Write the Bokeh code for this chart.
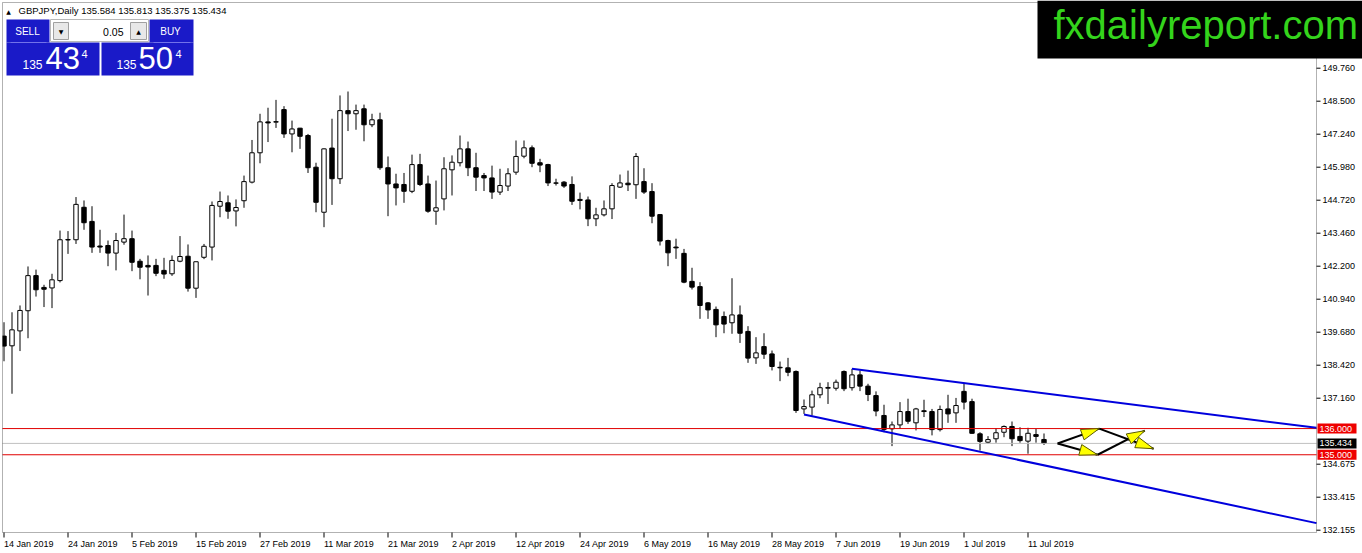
import numpy as np
from bokeh.plotting import figure
from bokeh.models import Range1d, Label, BoxAnnotation, ColumnDataSource
from bokeh.core.properties import value
from bokeh.embed import file_html
from bokeh.resources import INLINE

# ---------------- data ----------------
symbol_text = "GBPJPY,Daily"
last_ohlc_text = "135.584 135.813 135.375 135.434"

opens = [139.53, 139.16, 139.73, 140.50, 141.84, 141.39, 141.37, 141.65, 143.20, 143.21,
         144.45, 143.91, 142.97, 142.99, 142.70, 143.12, 143.25, 142.39, 142.23, 142.23,
         142.04, 141.91, 142.39, 142.58, 141.36, 142.54, 142.93, 144.49, 144.62, 144.31,
         144.70, 145.41, 146.53, 147.71, 147.70, 148.18, 147.25, 147.47, 147.19, 145.98,
         144.26, 146.71, 145.54, 148.14, 148.02, 148.21, 147.60, 147.79, 145.96, 145.34,
         145.32, 145.06, 146.08, 145.34, 144.30, 144.77, 145.88, 146.15, 146.68, 145.96,
         145.66, 145.57, 145.03, 145.26, 145.79, 146.40, 146.72, 146.15, 146.08, 145.38,
         145.41, 145.32, 144.75, 144.73, 144.01, 144.16, 144.39, 145.22, 145.37, 145.31,
         145.43, 145.05, 144.17, 143.18, 142.93, 142.69, 141.62, 141.42, 140.80, 140.55,
         140.28, 140.04, 140.34, 139.71, 138.70, 139.13, 138.85, 138.34, 138.32, 138.18,
         136.75, 136.82, 137.29, 137.54, 137.54, 138.18, 137.56, 138.05, 137.62, 137.26,
         136.50, 135.99, 136.14, 136.65, 136.22, 136.68, 136.65, 135.96, 136.75, 136.60,
         137.42, 137.03, 135.80, 135.48, 135.61, 135.86, 136.08, 135.70, 135.52, 135.77,
         135.584]
highs = [140.06, 140.44, 140.70, 142.19, 142.07, 141.49, 141.91, 143.56, 143.54, 144.84,
         144.71, 144.49, 143.59, 143.18, 143.47, 144.17, 143.56, 142.48, 142.61, 142.48,
         142.52, 142.61, 143.35, 143.03, 142.37, 143.05, 144.67, 145.05, 144.90, 144.75,
         145.66, 147.02, 148.02, 148.25, 148.55, 148.31, 147.76, 147.48, 147.25, 146.15,
         146.70, 147.83, 148.72, 148.87, 148.37, 148.37, 148.02, 148.06, 146.39, 145.73,
         145.76, 146.46, 146.49, 145.66, 145.47, 146.36, 146.43, 147.19, 146.96, 146.53,
         145.76, 146.04, 145.92, 145.94, 147.00, 147.00, 146.81, 146.30, 146.11, 145.54,
         145.45, 145.63, 145.01, 144.86, 144.43, 144.71, 145.37, 145.70, 145.85, 146.52,
         145.94, 145.37, 144.19, 143.21, 143.25, 142.86, 142.14, 141.59, 140.83, 140.66,
         140.47, 141.74, 140.70, 139.91, 139.49, 139.64, 138.98, 138.56, 138.70, 138.22,
         137.11, 137.45, 137.75, 137.77, 137.87, 138.22, 138.28, 138.22, 137.71, 137.42,
         136.91, 136.27, 137.01, 137.14, 136.79, 137.10, 136.75, 136.88, 137.29, 137.17,
         137.71, 137.14, 135.86, 135.71, 136.02, 136.12, 136.27, 136.05, 136.03, 135.99,
         135.813]
lows = [138.57, 137.33, 138.96, 139.45, 141.04, 140.64, 140.60, 141.58, 142.67, 143.05,
        143.59, 142.71, 142.71, 142.20, 142.04, 143.02, 142.01, 141.70, 141.08, 141.82,
        141.72, 141.83, 142.35, 141.23, 140.99, 142.47, 142.42, 144.07, 144.01, 143.72,
        144.43, 145.36, 146.13, 146.94, 147.48, 147.10, 146.55, 146.68, 145.76, 144.26,
        143.69, 144.54, 145.34, 147.36, 147.41, 146.97, 147.51, 145.88, 144.11, 144.52,
        144.62, 144.99, 145.26, 144.24, 143.78, 144.33, 144.90, 146.01, 145.64, 145.07,
        145.07, 144.77, 144.92, 145.07, 145.69, 146.32, 145.98, 145.79, 145.26, 145.28,
        145.19, 144.54, 144.37, 143.73, 143.73, 144.10, 144.00, 145.19, 145.07, 144.77,
        144.96, 143.84, 142.99, 142.20, 142.48, 141.55, 141.31, 140.19, 140.19, 139.49,
        139.64, 139.62, 139.27, 138.51, 138.47, 138.66, 138.22, 137.81, 138.00, 136.60,
        136.56, 136.50, 137.16, 136.94, 137.45, 137.43, 137.45, 137.43, 137.05, 136.47,
        135.86, 135.33, 135.99, 136.18, 135.93, 136.44, 135.74, 135.89, 136.22, 136.22,
        136.73, 135.80, 135.16, 135.42, 135.46, 135.67, 135.33, 135.46, 135.04, 135.46,
        135.375]
closes = [139.15, 139.77, 140.51, 141.84, 141.30, 141.32, 141.68, 143.21, 143.22, 144.56,
          143.86, 142.93, 142.93, 142.70, 143.18, 143.25, 142.35, 142.16, 142.17, 141.93,
          141.90, 142.42, 142.57, 141.36, 142.37, 142.96, 144.52, 144.67, 144.30, 144.44,
          145.43, 146.53, 147.71, 147.67, 147.72, 147.25, 147.44, 147.16, 145.96, 144.64,
          146.68, 145.54, 148.14, 148.02, 148.14, 147.60, 147.79, 145.96, 145.34, 145.19,
          145.06, 146.08, 145.32, 144.30, 144.43, 145.92, 146.17, 146.68, 145.96, 145.60,
          145.57, 145.03, 145.28, 145.73, 146.39, 146.72, 146.13, 146.06, 145.38, 145.37,
          145.26, 144.68, 144.71, 144.01, 144.16, 144.39, 145.28, 145.38, 145.31, 146.39,
          145.03, 144.11, 143.16, 142.71, 142.90, 141.59, 141.40, 140.70, 140.53, 139.96,
          139.99, 140.34, 139.64, 138.69, 138.89, 138.84, 138.37, 138.32, 138.15, 136.69,
          136.84, 137.29, 137.56, 137.57, 137.77, 137.52, 138.05, 137.62, 137.30, 136.67,
          135.97, 136.14, 136.65, 136.28, 136.75, 136.65, 135.96, 136.73, 136.56, 136.88,
          137.01, 135.82, 135.51, 135.58, 135.84, 136.08, 135.61, 135.54, 135.82, 135.70,
          135.434]

date_tick_bars = list(range(0, 129, 8))
date_tick_labels = ["14 Jan 2019", "24 Jan 2019", "5 Feb 2019", "15 Feb 2019", "27 Feb 2019",
                    "11 Mar 2019", "21 Mar 2019", "2 Apr 2019", "12 Apr 2019", "24 Apr 2019",
                    "6 May 2019", "16 May 2019", "28 May 2019", "7 Jun 2019", "19 Jun 2019",
                    "1 Jul 2019", "11 Jul 2019"]
price_tick_values = [149.76, 148.50, 147.24, 145.98, 144.72, 143.46, 142.20, 140.94,
                     139.68, 138.42, 137.16, 134.64, 133.38, 132.12]
price_tick_labels = ["149.760", "148.500", "147.240", "145.980", "144.720", "143.460",
                     "142.200", "140.940", "139.680", "138.420", "137.160", "134.675",
                     "133.415", "132.155"]

level_prices = [136.000, 135.000]
bid_price = 135.434

upper_channel_bar = [106, 164.06]
upper_channel_price = [138.28, 136.03]
lower_channel_bar = [100, 164.06]
lower_channel_price = [136.54, 132.39]

proj_start_bar, proj_start_price = 131.7, 135.43
proj_mid_bar = [136.9, 136.7]
proj_mid_price = [136.00, 135.00]
proj_end_bar = [143.7, 142.6]
proj_end_price = [135.23, 135.92]

sell_big, sell_small, sell_pip = "43", "135", "4"
buy_big, buy_small, buy_pip = "50", "135", "4"
lot_text = "0.05"
logo_text = "fxdailyreport.com"

# ---------------- layout: the whole canvas is the plotting frame ----------------
W, H = 1362, 553
BAR_PX = 8.0          # pixels per bar
BAR0_PX = 3.5         # pixel x of bar 0
PX_PER_YEN = 26.19    # pixels per price unit
REF_PRICE, REF_PX = 149.76, 67.7
FL, FT, FR, FB = 2, 2, 1316, 532   # chart frame (pixels)

def px2x(X):
    return (X - BAR0_PX) / BAR_PX

def px2y(Y):
    return REF_PRICE - (Y - REF_PX) / PX_PER_YEN

def x2px(x):
    return BAR0_PX + BAR_PX * x

def y2px(y):
    return REF_PX + (REF_PRICE - y) * PX_PER_YEN

FONT = "Liberation Sans"

p = figure(width=W, height=H, output_backend="svg", toolbar_location=None,
           x_range=Range1d(px2x(0), px2x(W)), y_range=Range1d(px2y(H), px2y(0)),
           x_axis_location=None, y_axis_location=None, min_border=0)
p.background_fill_color = "white"
p.border_fill_color = "white"
p.outline_line_color = None
p.grid.visible = False

xl, xr = px2x(FL), px2x(FR)
yt, yb = px2y(FT), px2y(FB)

# candles
o = np.array(opens); h = np.array(highs); l = np.array(lows); c = np.array(closes)
idx = np.arange(len(o))
up = c >= o
p.segment(x0=idx, y0=h, x1=idx, y1=l, line_color="black", line_width=1)
up_src = ColumnDataSource(dict(x=idx[up], top=c[up], bottom=o[up]))
dn_src = ColumnDataSource(dict(x=idx[~up], top=o[~up], bottom=c[~up]))
p.vbar(x="x", top="top", bottom="bottom", width=0.55, source=up_src,
       fill_color="white", line_color="black", line_width=1)
p.vbar(x="x", top="top", bottom="bottom", width=0.55, source=dn_src,
       fill_color="black", line_color="black", line_width=1)

# white margin left of the frame
p.quad(left=[px2x(0)], right=[xl], top=[yt], bottom=[yb], fill_color="white", line_color=None)

# horizontal levels and bid line
p.segment(x0=[xl] * len(level_prices), y0=level_prices, x1=[xr] * len(level_prices),
          y1=level_prices, line_color="#e00000", line_width=1)
p.segment(x0=[xl], y0=[bid_price], x1=[xr], y1=[bid_price], line_color="#c0c0c0", line_width=1)

# channel lines (rays up to the right edge of the frame)
p.line(upper_channel_bar, upper_channel_price, line_color="#0000dd", line_width=2)
p.line(lower_channel_bar, lower_channel_price, line_color="#0000dd", line_width=2)

# projection arrows
seg_x0 = [proj_start_bar, proj_start_bar] + proj_mid_bar
seg_y0 = [proj_start_price, proj_start_price] + proj_mid_price
seg_x1 = proj_mid_bar + proj_end_bar
seg_y1 = proj_mid_price + proj_end_price
p.segment(x0=seg_x0, y0=seg_y0, x1=seg_x1, y1=seg_y1, line_color="black", line_width=2)

heads_x, heads_y = [], []
for a, b, cc, d in zip(seg_x0, seg_y0, seg_x1, seg_y1):
    sx, sy, tx, ty = x2px(a), y2px(b), x2px(cc), y2px(d)
    L = np.hypot(tx - sx, ty - sy)
    ux, uy = (tx - sx) / L, (ty - sy) / L
    bx, by = tx - 18 * ux, ty - 18 * uy
    nx, ny = -uy, ux
    pts = [(tx, ty), (bx + 5.5 * nx, by + 5.5 * ny), (bx - 5.5 * nx, by - 5.5 * ny)]
    heads_x.append([px2x(q[0]) for q in pts])
    heads_y.append([px2y(q[1]) for q in pts])
p.patches(heads_x, heads_y, fill_color="#ffff00", line_color="#5a5a00", line_width=1)

# frame border and axis lines
p.add_layout(BoxAnnotation(left=FL, right=FR, top=H - FT, bottom=H - FB,
                           left_units="screen", right_units="screen",
                           top_units="screen", bottom_units="screen",
                           fill_alpha=0.0, line_color="black", line_width=1))

# axis ticks and labels (price axis on the right, dates below)
p.segment(x0=[xr] * len(price_tick_values), y0=price_tick_values,
          x1=[px2x(FR + 4)] * len(price_tick_values), y1=price_tick_values,
          line_color="black", line_width=1)
p.text(x=[px2x(FR + 6)] * len(price_tick_values), y=price_tick_values, text=price_tick_labels,
       text_font=value(FONT), text_font_size="9px", text_color="black",
       text_baseline="middle", text_align="left")
p.segment(x0=date_tick_bars, y0=[yb] * len(date_tick_bars), x1=date_tick_bars,
          y1=[px2y(FB + 5)] * len(date_tick_bars), line_color="black", line_width=1)
p.text(x=date_tick_bars, y=[px2y(FB + 11)] * len(date_tick_bars), text=date_tick_labels,
       text_font=value(FONT), text_font_size="9px", text_color="black",
       text_baseline="middle", text_align="left")

# ---------------- screen-space decorations ----------------
def box(x0, y0, x1, y1, color, line=None):
    p.add_layout(BoxAnnotation(left=x0, right=x1, top=H - y0, bottom=H - y1,
                               left_units="screen", right_units="screen",
                               top_units="screen", bottom_units="screen",
                               fill_color=color, fill_alpha=1.0,
                               line_color=line, line_alpha=1.0 if line else 0.0,
                               line_width=1))

def text(X, Y, s, size, color="black", align="left", font=FONT):
    # Y is the vertical centre of the text
    p.add_layout(Label(x=X, y=H - Y, x_units="screen", y_units="screen", text=s,
                       text_font=font, text_font_size=f"{size}px", text_color=color,
                       text_align=align, text_baseline="middle"))

def text_on_baseline(X, base, s, size, color="black", align="left"):
    text(X, base - 0.3465 * size, s, size, color, align)

# header
text(8, 10.5, "▲", 6, "black", "center", font="DejaVu Sans")
text(18, 10, symbol_text + "  " + last_ohlc_text, 9.5)

# one-click trading panel
BLUE = "#1a1ac8"
box(6, 19, 49, 42, BLUE)
box(149, 19, 193, 42, BLUE)
box(50, 19, 148, 41, "white", "#b8b8b8")
box(53, 22, 68, 39, "#e8e8e8", "#a0a0a0")
box(130, 22, 146, 39, "#e8e8e8", "#a0a0a0")
box(6, 42, 99, 75, BLUE)
box(101, 42, 193, 75, BLUE)
box(10, 41.5, 46, 42.2, "#7c7cf0")
box(153, 41.5, 190, 42.2, "#7c7cf0")
text(27, 31, "SELL", 10, "white", "center")
text(170, 31, "BUY", 10, "white", "center")
text(123, 31, lot_text, 10.5, "black", "right")
text(60.5, 31, "▼", 6, "black", "center", font="DejaVu Sans")
text(138, 31, "▲", 6, "black", "center", font="DejaVu Sans")
text_on_baseline(22, 68, sell_small, 12, "white")
text_on_baseline(45, 68, sell_big, 31, "white")
text_on_baseline(81, 57.5, sell_pip, 11, "white")
text_on_baseline(116, 68, buy_small, 12, "white")
text_on_baseline(138, 68, buy_big, 31, "white")
text_on_baseline(175, 57.5, buy_pip, 11, "white")

# logo
box(1037, 0, W, 58, "black")
text_on_baseline(1053, 38.5, logo_text, 40, "#34d41c")

# price tags on the right axis
for val, bg in ((level_prices[0], "#ee0000"), (bid_price, "black"), (level_prices[1], "#ee0000")):
    p.add_layout(BoxAnnotation(left=FR + 1, right=FR + 40, top=val + 5 / PX_PER_YEN,
                               bottom=val - 5 / PX_PER_YEN,
                               left_units="screen", right_units="screen",
                               fill_color=bg, fill_alpha=1.0, line_alpha=0.0))
    p.add_layout(Label(x=FR + 3, y=val, x_units="screen", y_units="data",
                       text=f"{val:.3f}", text_font=FONT, text_font_size="9px",
                       text_color="white", text_baseline="middle", text_align="left"))

open("out.html", "w").write(file_html(p, INLINE))
